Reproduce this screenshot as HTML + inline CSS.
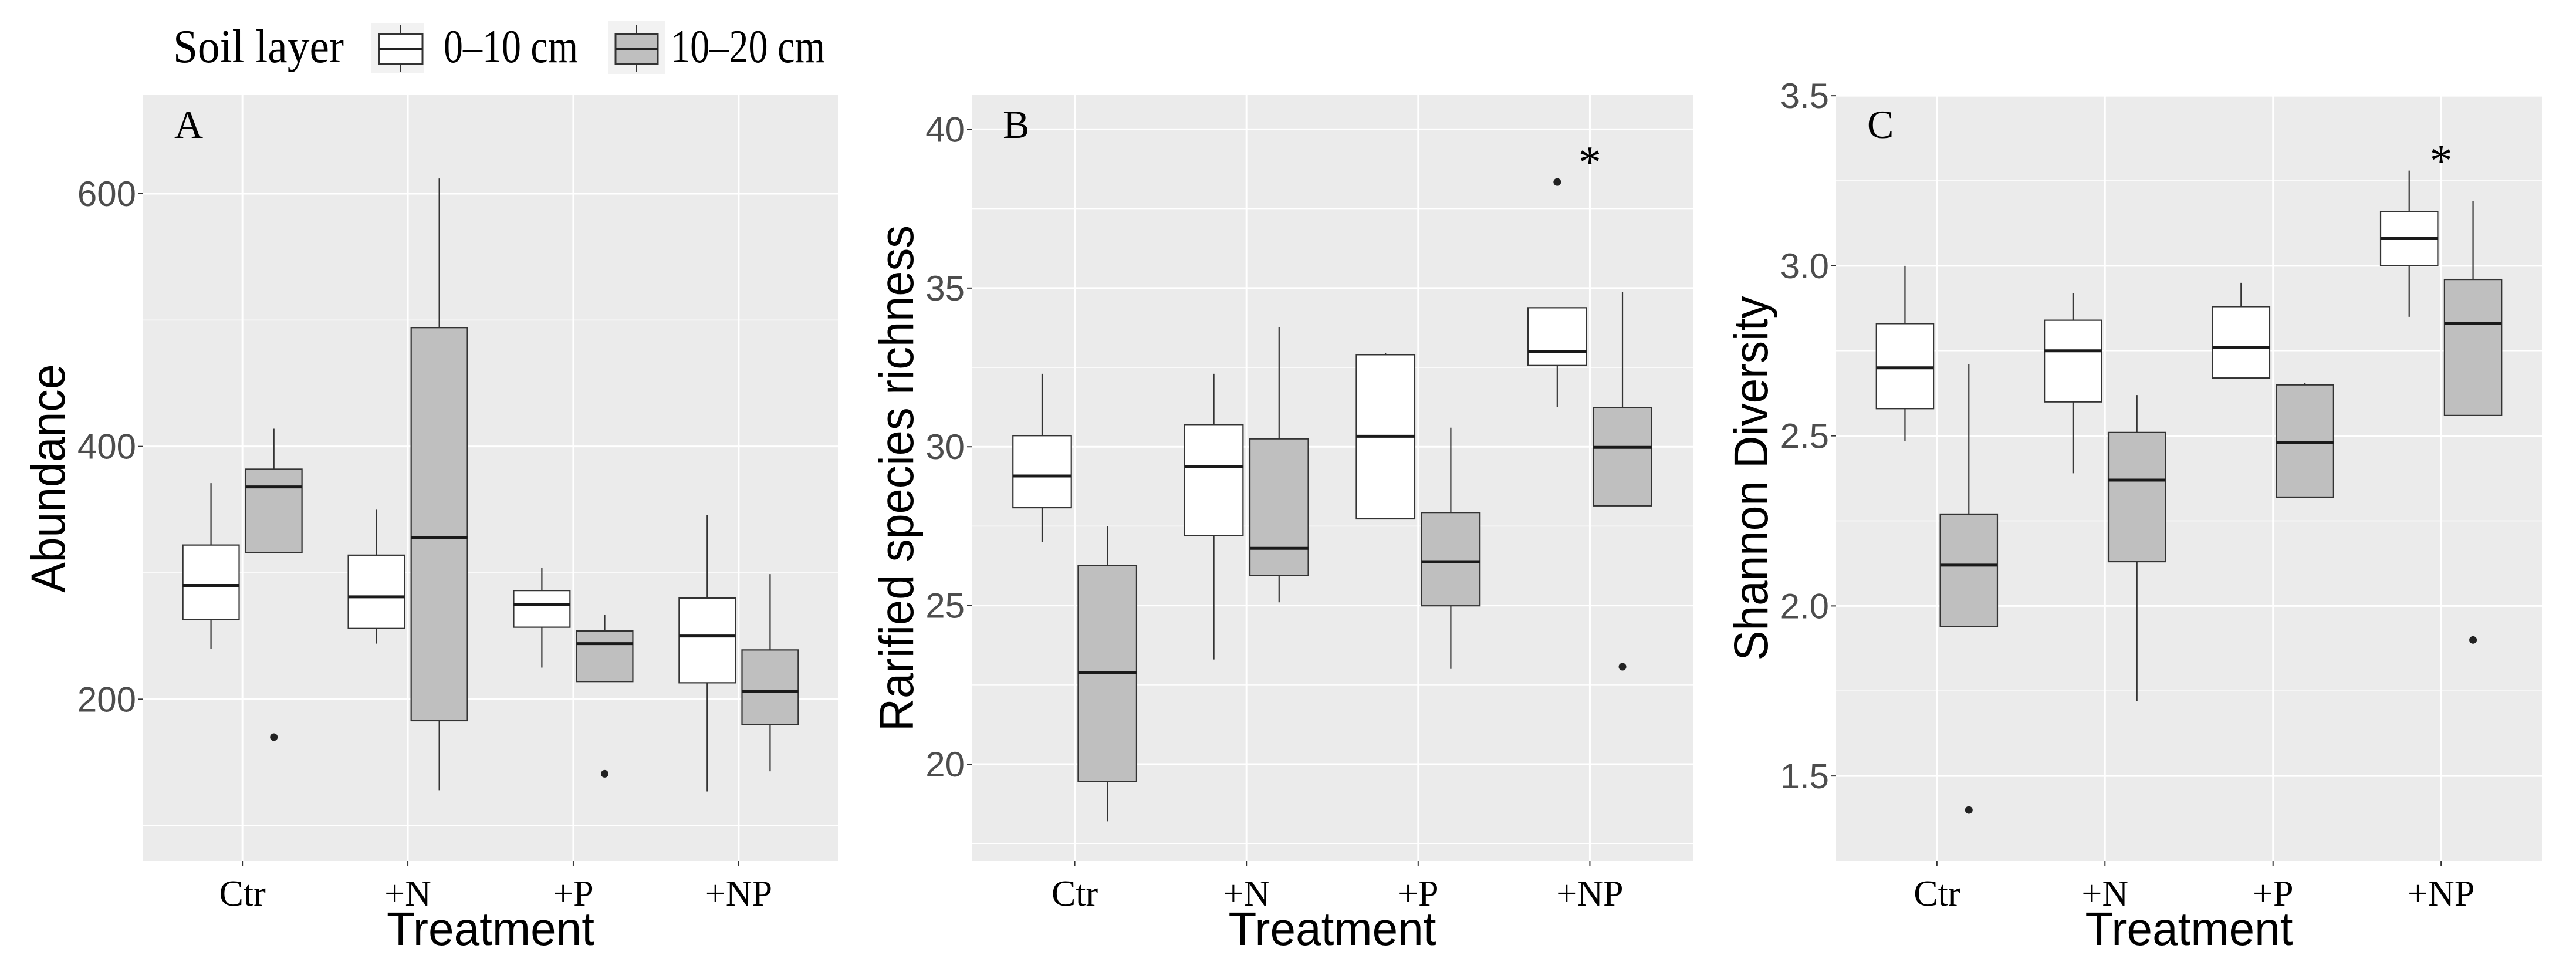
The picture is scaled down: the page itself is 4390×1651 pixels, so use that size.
<!DOCTYPE html>
<html><head><meta charset="utf-8">
<style>
html,body{margin:0;padding:0;background:#fff;}
svg{display:block;}
</style></head>
<body>
<svg id="fig" width="4390" height="1651" viewBox="0 0 4390 1651" xmlns="http://www.w3.org/2000/svg">
  <g>
    <text x="295" y="106" font-family="Liberation Serif, serif" font-size="80" textLength="291" lengthAdjust="spacingAndGlyphs">Soil layer</text>
    <g>
      <rect x="633" y="40" width="89" height="85" fill="#f2f2f2"/>
      <line x1="683" y1="42" x2="683" y2="122" stroke="#333" stroke-width="2"/>
      <rect x="646" y="58" width="74" height="51" fill="#fff" stroke="#333" stroke-width="3"/>
      <line x1="646" y1="83" x2="720" y2="83" stroke="#222" stroke-width="4"/>
      <text x="756" y="106" font-family="Liberation Serif, serif" font-size="80" textLength="229" lengthAdjust="spacingAndGlyphs">0–10 cm</text>
    </g>
    <g>
      <rect x="1036" y="35" width="98" height="91" fill="#f2f2f2"/>
      <line x1="1085" y1="42" x2="1085" y2="122" stroke="#333" stroke-width="2"/>
      <rect x="1049" y="58" width="72" height="51" fill="#bfbfbf" stroke="#333" stroke-width="3"/>
      <line x1="1049" y1="83" x2="1121" y2="83" stroke="#222" stroke-width="4"/>
      <text x="1143" y="106" font-family="Liberation Serif, serif" font-size="80" textLength="263" lengthAdjust="spacingAndGlyphs">10–20 cm</text>
    </g>
  </g>
</svg>
<script>
// Shared categories
const categories = ["Ctr", "+N", "+P", "+NP"];
// Each box: [lowWhisker, Q1, median, Q3, highWhisker]
// Panel A: Abundance
const abundanceTop = [[240,263,290,322,371],[244,256,281,314,350],[225,257,275,286,304],[127,213,250,280,346]];
const abundanceSub = [[316,316,368,382,414],[128,183,328,494,612],[214,214,244,254,267],[143,180,206,239,299]];
const abundanceOutTop = [];
const abundanceOutSub = [[0,170],[2,141]];
const abundanceTicks = [200,400,600];
const abundanceMinor = [100,300,500];
// Panel B: Rarified species richness
const richTop = [[27.0,28.08,29.08,30.35,32.3],[23.3,27.2,29.37,30.7,32.3],[27.73,27.73,30.33,32.9,32.95],[31.25,32.56,33.0,34.38,34.38]];
const richSub = [[18.2,19.45,22.88,26.26,27.5],[25.1,25.95,26.8,30.25,33.76],[23.0,24.99,26.38,27.93,30.6],[28.14,28.14,29.98,31.23,34.87]];
const richOutTop = [[3,38.34]];
const richOutSub = [[3,23.07]];
const richTicks = [20,25,30,35,40];
const richMinor = [17.5,22.5,27.5,32.5,37.5];
// Panel C: Shannon Diversity
const shanTop = [[2.485,2.58,2.70,2.83,3.0],[2.39,2.60,2.75,2.84,2.92],[2.67,2.67,2.76,2.88,2.95],[2.85,3.0,3.08,3.16,3.28]];
const shanSub = [[1.94,1.94,2.12,2.27,2.71],[1.72,2.13,2.37,2.51,2.62],[2.32,2.32,2.48,2.65,2.655],[2.56,2.56,2.83,2.96,3.19]];
const shanOutTop = [];
const shanOutSub = [[0,1.40],[3,1.90]];
const shanTicks = ["1.5","2.0","2.5","3.0","3.5"];
const shanMinor = [1.25,1.75,2.25,2.75,3.25];

const NS = "http://www.w3.org/2000/svg";
const svg = document.getElementById("fig");
function mk(tag, attrs, parent){
  const e = document.createElementNS(NS, tag);
  for (const k in attrs) e.setAttribute(k, attrs[k]);
  (parent||svg).appendChild(e);
  return e;
}

function panel(o){
  const g = mk("g", {});
  
  
  const L=o.x0, R=o.x1, T=162, B=1467;
  const yS = v => B - (v - o.vmin)/(o.vmax - o.vmin)*(B-T);
  const n = categories.length;
  const step = (R-L)/(n+0.2);
  const xS = i => L + step*(0.6+i);
  const bg = mk("rect",{x:L,y:T,width:R-L,height:B-T,fill:"#ebebeb"},g);
  
  
  o.minor.forEach(v=>{ const y=yS(v); if(y>T&&y<B) mk("line",{x1:L,x2:R,y1:y,y2:y,stroke:"#fff","stroke-width":1.5},g); });
  o.ticks.forEach(v=>{
    const y=yS(+v);
    mk("line",{x1:L,x2:R,y1:y,y2:y,stroke:"#fff","stroke-width":3},g);
    mk("line",{x1:L-8,x2:L,y1:y,y2:y,stroke:"#333","stroke-width":2},g);
    const t=mk("text",{x:L-12,y:y+21,"text-anchor":"end","font-family":"Liberation Sans, sans-serif","font-size":60,fill:"#4d4d4d"},g);
    t.textContent=v;
    
    
  });
  categories.forEach((c,i)=>{
    const x=xS(i);
    mk("line",{x1:x,x2:x,y1:T,y2:B,stroke:"#fff","stroke-width":3},g);
    mk("line",{x1:x,x2:x,y1:B,y2:B+8,stroke:"#333","stroke-width":2},g);
    const t=mk("text",{x:x,y:1543,"text-anchor":"middle","font-family":"Liberation Serif, serif","font-size":62,fill:"#000"},g);
    t.textContent=c;
    
    
  });
  const bw = step*0.34, off = step*0.19;
  function drawSeries(data, outs, fill, sign, sname){
    data.forEach((d,i)=>{
      const cx = xS(i)+sign*off;
      const bx = mk("g",{},g);
      
      
      mk("line",{x1:cx,x2:cx,y1:yS(d[0]),y2:yS(d[1]),stroke:"#333","stroke-width":2.2},bx);
      mk("line",{x1:cx,x2:cx,y1:yS(d[3]),y2:yS(d[4]),stroke:"#333","stroke-width":2.2},bx);
      mk("rect",{x:cx-bw/2,y:yS(d[3]),width:bw,height:Math.max(1,yS(d[1])-yS(d[3])),fill:fill,stroke:"#333","stroke-width":2.2},bx);
      mk("line",{x1:cx-bw/2,x2:cx+bw/2,y1:yS(d[2]),y2:yS(d[2]),stroke:"#1a1a1a","stroke-width":5},bx);
    });
    outs.forEach(p=>{
      const c = mk("circle",{cx:xS(p[0])+sign*off,cy:yS(p[1]),r:6.5,fill:"#222"},g);
      
      
    });
  }
  drawSeries(o.top, o.outTop, "#ffffff", -1, "top-layer");
  drawSeries(o.sub, o.outSub, "#bfbfbf", 1, "sub-layer");
  const lt=mk("text",{x:L+53,y:235,"font-family":"Liberation Serif, serif","font-size":68,fill:"#000"},g);
  lt.textContent=o.letter;
  
  
  if (o.star){
    const s=mk("text",{x:xS(3),y:yS(o.star)+44,"text-anchor":"middle","font-family":"Liberation Serif, serif","font-size":78,fill:"#000"},g);
    s.textContent="*";
    
    
  }
  const yt=mk("text",{x:0,y:0,"text-anchor":"middle","font-family":"Liberation Sans, sans-serif","font-size":82,fill:"#000",textLength:o.tl,lengthAdjust:"spacingAndGlyphs",transform:"translate("+(o.tx+29)+",815) rotate(-90)"},g);
  yt.textContent=o.title;
  
  
  const xt=mk("text",{x:(L+R)/2,y:1610,"text-anchor":"middle","font-family":"Liberation Sans, sans-serif","font-size":80,fill:"#000",textLength:354,lengthAdjust:"spacingAndGlyphs"},g);
  xt.textContent="Treatment";
  
  
}

panel({name:"panel-a-abundance",x0:244,x1:1428,vmin:72,vmax:678,ticks:abundanceTicks,minor:abundanceMinor,top:abundanceTop,sub:abundanceSub,outTop:abundanceOutTop,outSub:abundanceOutSub,letter:"A",title:"Abundance",tx:81,tl:389});
panel({name:"panel-b-richness",x0:1656,x1:2885,vmin:16.95,vmax:41.08,ticks:richTicks,minor:richMinor,top:richTop,sub:richSub,outTop:richOutTop,outSub:richOutSub,letter:"B",title:"Rarified species richness",tx:1527,tl:862,star:39.3});
panel({name:"panel-c-shannon",x0:3129,x1:4332,vmin:1.25,vmax:3.502,ticks:shanTicks,minor:shanMinor,top:shanTop,sub:shanSub,outTop:shanOutTop,outSub:shanOutSub,letter:"C",title:"Shannon Diversity",tx:2983,tl:621,star:3.34});
</script>
</body></html>
